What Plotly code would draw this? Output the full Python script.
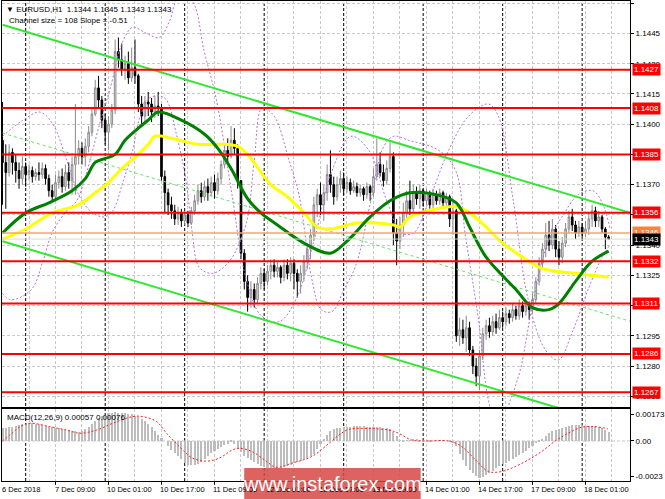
import plotly.graph_objects as go

# ---------------- data (H1 bars, index 0 = 6 Dec 2018 17:00) ----------------
first_open = 1.1392
closes = [1.1381, 1.1376, 1.1386, 1.1381, 1.1377, 1.1373, 1.1379, 1.1375, 1.1377, 1.1374,
          1.1376, 1.1375, 1.1378, 1.1373, 1.1367, 1.1364, 1.1371, 1.1374, 1.1369, 1.1376,
          1.1372, 1.1380, 1.1384, 1.1388, 1.1384, 1.1389, 1.1396, 1.1405, 1.1418, 1.1412,
          1.1402, 1.1396, 1.1400, 1.1407, 1.1436, 1.1432, 1.1427, 1.1430, 1.1423, 1.1428,
          1.1424, 1.1410, 1.1404, 1.1411, 1.1410, 1.1406, 1.1409, 1.1408, 1.1374, 1.1366,
          1.1360, 1.1357, 1.1353, 1.1356, 1.1352, 1.1355, 1.1351, 1.1357, 1.1362, 1.1367,
          1.1364, 1.1369, 1.1366, 1.1371, 1.1367, 1.1373, 1.1380, 1.1387, 1.1384, 1.1392,
          1.1388, 1.1372, 1.1336, 1.1322, 1.1314, 1.1318, 1.1313, 1.1321, 1.1326, 1.1322,
          1.1327, 1.1330, 1.1327, 1.1329, 1.1324, 1.1330, 1.1326, 1.1331, 1.1326, 1.1322,
          1.1326, 1.1332, 1.1338, 1.1345, 1.1360, 1.1365, 1.1360, 1.1366, 1.1375, 1.1370,
          1.1364, 1.1370, 1.1373, 1.1368, 1.1371, 1.1367, 1.1369, 1.1366, 1.1368, 1.1365,
          1.1369, 1.1366, 1.1374, 1.1380, 1.1376, 1.1372, 1.1378, 1.1384, 1.1346, 1.1342,
          1.1350, 1.1356, 1.1362, 1.1358, 1.1366, 1.1363, 1.1367, 1.1362, 1.1366, 1.1360,
          1.1365, 1.1362, 1.1366, 1.1361, 1.1364, 1.1353, 1.1357, 1.1295, 1.1298, 1.1294,
          1.1299, 1.1288, 1.1280, 1.1275, 1.1285, 1.1296, 1.1300, 1.1297, 1.1302, 1.1299,
          1.1304, 1.1302, 1.1306, 1.1304, 1.1308, 1.1305, 1.1310, 1.1307, 1.1310, 1.1308,
          1.1313, 1.1322, 1.1331, 1.1338, 1.1345, 1.1340, 1.1348, 1.1338, 1.1334, 1.1341,
          1.1348, 1.1354, 1.1350, 1.1346, 1.1349, 1.1346, 1.1348, 1.1353, 1.1357, 1.1352,
          1.1354, 1.1348, 1.1344, 1.1343]
highs = [1.1411, 1.1390, 1.1390, 1.1388, 1.1385, 1.1381, 1.1384, 1.1381, 1.1380, 1.1379,
         1.1378, 1.1381, 1.1381, 1.1380, 1.1375, 1.1370, 1.1375, 1.1377, 1.1378, 1.1380,
         1.1381, 1.1384, 1.1410, 1.1392, 1.1391, 1.1393, 1.1399, 1.1408, 1.1422, 1.1424,
         1.1414, 1.1405, 1.1404, 1.1410, 1.1442, 1.1443, 1.1440, 1.1434, 1.1436, 1.1438,
         1.1442, 1.1425, 1.1414, 1.1414, 1.1416, 1.1413, 1.1414, 1.1416, 1.1410, 1.1377,
         1.1368, 1.1364, 1.1360, 1.1359, 1.1358, 1.1357, 1.1357, 1.1359, 1.1365, 1.1370,
         1.1371, 1.1372, 1.1373, 1.1374, 1.1375, 1.1376, 1.1382, 1.1390, 1.1393, 1.1399,
         1.1398, 1.1390, 1.1372, 1.1338, 1.1325, 1.1322, 1.1321, 1.1324, 1.1329, 1.1328,
         1.1330, 1.1333, 1.1333, 1.1332, 1.1330, 1.1333, 1.1333, 1.1334, 1.1333, 1.1328,
         1.1330, 1.1335, 1.1341, 1.1348, 1.1364, 1.1368, 1.1371, 1.1370, 1.1380, 1.1387,
         1.1374, 1.1374, 1.1377, 1.1376, 1.1374, 1.1373, 1.1372, 1.1371, 1.1370, 1.1369,
         1.1371, 1.1370, 1.1378, 1.1393, 1.1386, 1.1380, 1.1382, 1.1391, 1.1386, 1.1353,
         1.1354, 1.1361, 1.1367, 1.1372, 1.1370, 1.1369, 1.1370, 1.1368, 1.1368, 1.1367,
         1.1368, 1.1367, 1.1368, 1.1367, 1.1366, 1.1365, 1.1362, 1.1358, 1.1304, 1.1303,
         1.1305, 1.1302, 1.1290, 1.1284, 1.1288, 1.1299, 1.1303, 1.1304, 1.1305, 1.1306,
         1.1308, 1.1307, 1.1309, 1.1308, 1.1311, 1.1310, 1.1313, 1.1312, 1.1313, 1.1312,
         1.1316, 1.1324, 1.1334, 1.1341, 1.1351, 1.1352, 1.1353, 1.1350, 1.1342, 1.1344,
         1.1351, 1.1357, 1.1358, 1.1352, 1.1352, 1.1351, 1.1352, 1.1356, 1.1360, 1.1359,
         1.1357, 1.1355, 1.1349, 1.1345]
lows = [1.1360, 1.1358, 1.1374, 1.1375, 1.1371, 1.1368, 1.1370, 1.1369, 1.1372, 1.1371,
        1.1372, 1.1372, 1.1373, 1.1370, 1.1364, 1.1362, 1.1363, 1.1368, 1.1366, 1.1367,
        1.1368, 1.1365, 1.1365, 1.1380, 1.1380, 1.1379, 1.1386, 1.1394, 1.1404, 1.1408,
        1.1398, 1.1390, 1.1387, 1.1398, 1.1405, 1.1428, 1.1424, 1.1422, 1.1420, 1.1421,
        1.1420, 1.1406, 1.1400, 1.1400, 1.1404, 1.1401, 1.1403, 1.1404, 1.1372, 1.1356,
        1.1355, 1.1353, 1.1350, 1.1350, 1.1349, 1.1350, 1.1349, 1.1350, 1.1355, 1.1360,
        1.1361, 1.1362, 1.1362, 1.1364, 1.1363, 1.1365, 1.1370, 1.1378, 1.1380, 1.1383,
        1.1385, 1.1368, 1.1333, 1.1318, 1.1307, 1.1309, 1.1309, 1.1311, 1.1318, 1.1318,
        1.1320, 1.1323, 1.1324, 1.1324, 1.1321, 1.1322, 1.1323, 1.1322, 1.1318, 1.1314,
        1.1316, 1.1322, 1.1328, 1.1333, 1.1342, 1.1354, 1.1355, 1.1352, 1.1362, 1.1366,
        1.1360, 1.1362, 1.1366, 1.1365, 1.1366, 1.1365, 1.1366, 1.1364, 1.1364, 1.1362,
        1.1363, 1.1362, 1.1364, 1.1372, 1.1374, 1.1369, 1.1370, 1.1376, 1.1340, 1.1330,
        1.1338, 1.1344, 1.1352, 1.1355, 1.1356, 1.1360, 1.1358, 1.1359, 1.1360, 1.1358,
        1.1358, 1.1360, 1.1360, 1.1358, 1.1359, 1.1349, 1.1345, 1.1292, 1.1290, 1.1291,
        1.1287, 1.1285, 1.1276, 1.1270, 1.1268, 1.1283, 1.1293, 1.1294, 1.1295, 1.1296,
        1.1298, 1.1299, 1.1300, 1.1301, 1.1302, 1.1303, 1.1303, 1.1304, 1.1305, 1.1303,
        1.1306, 1.1311, 1.1320, 1.1328, 1.1334, 1.1337, 1.1338, 1.1334, 1.1330, 1.1331,
        1.1339, 1.1346, 1.1347, 1.1343, 1.1344, 1.1343, 1.1344, 1.1345, 1.1349, 1.1349,
        1.1349, 1.1346, 1.1338, 1.1343]
opens = [first_open] + closes[:-1]
bar_idx = list(range(len(closes)))

# moving averages (bar index, price)
green_ma_idx = [0, 7, 14, 21, 25, 28, 31, 34, 37, 41, 44, 47, 54, 61, 65, 69, 74, 78, 83, 91,
                99, 104, 111, 117, 123, 131, 137, 141, 146, 155, 160, 165, 168, 173, 178, 183]
green_ma = [1.1346, 1.1356, 1.1361, 1.1367, 1.1373, 1.1381, 1.1383, 1.1385, 1.1392, 1.1398,
            1.1402, 1.1406, 1.1402, 1.1395, 1.1388, 1.1378, 1.1363, 1.1356, 1.1350, 1.1341,
            1.1336, 1.1342, 1.1354, 1.1362, 1.1366, 1.1365, 1.1361, 1.1349, 1.1334, 1.1318,
            1.1309, 1.1308, 1.1311, 1.1322, 1.1332, 1.1337]
yellow_ma_idx = [0, 7, 15, 23, 28, 32, 36, 41, 44, 46, 51, 59, 67, 71, 74, 81, 86, 91, 95, 99,
                 107, 113, 118, 120, 123, 131, 137, 141, 146, 151, 157, 162, 167, 173, 178, 183]
yellow_ma = [1.1343, 1.1348, 1.1356, 1.1360, 1.1366, 1.1371, 1.1378, 1.1385, 1.1390, 1.1394,
             1.1393, 1.1390, 1.1390, 1.1389, 1.1385, 1.1370, 1.1364, 1.1356, 1.1349, 1.1348,
             1.1351, 1.1351, 1.1350, 1.1349, 1.1354, 1.1358, 1.1359, 1.1356, 1.1349, 1.1341,
             1.1334, 1.1329, 1.1327, 1.1326, 1.1325, 1.1324]

# two violet dotted band curves (bar index, price)
band_a_idx = [0, 2.3, 5.3, 9.2, 12.2, 15.2, 19.4, 22.4, 25.4, 29.3, 32.4, 36.3, 39.3, 43.5,
              47.4, 50.4, 53.4, 57.3, 60.9, 64.6, 69.1, 73.6, 78.1, 83.5, 88.6, 94.0, 99.5,
              105.2, 110.6, 116.0, 120.5, 124.1, 128.7, 134.7, 140.7, 146.7, 149.7, 154.2,
              158.7, 163.9, 167.8, 172.3, 176.8, 181.3, 183.4]
band_a = [1.1316, 1.1313, 1.1314, 1.1319, 1.1332, 1.1347, 1.1357, 1.1362, 1.1376, 1.1400,
          1.1417, 1.1441, 1.1448, 1.1445, 1.1443, 1.1451, 1.1464, 1.1461, 1.1436, 1.1412,
          1.1367, 1.1323, 1.1305, 1.1302, 1.1313, 1.1342, 1.1377, 1.1394, 1.1387, 1.1362,
          1.1346, 1.1346, 1.1362, 1.1387, 1.1404, 1.1410, 1.1404, 1.1362, 1.1313, 1.1288,
          1.1283, 1.1298, 1.1318, 1.1335, 1.1340]
band_b_idx = [0, 6.2, 11.3, 15.2, 19.4, 23.3, 27.2, 30.8, 33.3, 36.3, 39.3, 41.4, 44.4, 47.4,
              49.5, 52.5, 55.5, 57.3, 59.4, 63.4, 68.5, 73.6, 76.0, 78.4, 82.0, 86.5, 89.5,
              93.4, 96.2, 99.5, 103.1, 106.7, 111.2, 115.1, 118.1, 122.6, 131.7, 136.8, 139.8,
              143.7, 146.7, 149.7, 153.3, 156.3, 160.3, 164.8, 169.3, 173.8, 178.3, 181.3, 183.4]
band_b = [1.1394, 1.1402, 1.1406, 1.1400, 1.1382, 1.1364, 1.1356, 1.1354, 1.1357, 1.1371,
          1.1387, 1.1403, 1.1413, 1.1414, 1.1412, 1.1395, 1.1371, 1.1346, 1.1329, 1.1326,
          1.1332, 1.1351, 1.1382, 1.1408, 1.1404, 1.1382, 1.1365, 1.1323, 1.1308, 1.1307,
          1.1318, 1.1330, 1.1362, 1.1389, 1.1394, 1.1392, 1.1387, 1.1377, 1.1344, 1.1303,
          1.1263, 1.1248, 1.1263, 1.1278, 1.1313, 1.1342, 1.1355, 1.1365, 1.1367, 1.1360,
          1.1348]

# regression channel (ends of lines)
channel_idx = [0, 189.5]
channel_upper = [1.14493, 1.13560]
channel_mid = [1.13956, 1.13022]
channel_lower = [1.13419, 1.12485]

# horizontal levels
levels = [1.1427, 1.1408, 1.1385, 1.1356, 1.1332, 1.1311, 1.1286, 1.1267]
ask_price = 1.1346
bid_price = 1.1343

# MACD histogram (x1e-5) per bar and signal line samples
macd_hist = [82, 85, 88, 92, 96, 103, 106, 110, 114,
             113, 110, 106, 102, 97, 92,
             88, 84, 80, 75, 71, 68, 65, 62, 60,
             66, 78, 92, 108, 128, 146,
             158, 168, 178, 182, 184, 182, 180, 178,
             174, 170, 162, 152, 140, 125, 108, 92, 66, 39,
             20, 0, -36, -60, -80, -100, -120, -140, -154,
             -156, -154, -150, -135, -118, -100, -79,
             -65, -52, -40, -30, -18, -4, -22, -47,
             -75, -98, -112, -122, -138, -152, -165,
             -170, -174, -176, -177, -176, -172, -166, -160, -154,
             -146, -138, -128, -118, -110, -100, -85,
             -50, -20, 10, 40, 62,
             75, 80, 82, 86, 90, 92,
             93, 94, 94, 93, 92, 92, 90, 88, 86, 83, 80,
             75, 55, 28, 5, -2, 3,
             5, 8, 6, 4, 2, 0, -2, 0, 2, 3, 2, 0, -6, -15,
             -36, -85, -122, -165, -190, -208, -225, -240, -232, -220,
             -208, -195, -176, -165, -150, -140, -133, -120, -106, -92, -79,
             -64, -48, -32, -15, -4, 6, 28, 50,
             62, 71, 77, 82, 90, 97, 103,
             104, 102, 100, 97, 95, 94, 93, 92, 84, 72, 57]
signal_idx = [0, 2.3, 5.3, 8.3, 14.3, 19.4, 23.3, 28.4, 33.3, 39.3, 42.3, 46.5, 49.5, 53.4,
              57.3, 61.5, 65.5, 69.4, 71.5, 75.4, 79.6, 82.6, 87.4, 93.4, 98.6, 101.6, 104.6,
              110.6, 116.6, 119.6, 123.5, 128.7, 134.7, 138.6, 142.8, 146.7, 150.6, 154.8,
              158.7, 162.7, 166.9, 170.8, 174.7, 178.9, 182.8]
signal = [0, 39, 92, 114, 92, 70, 50, 70, 114, 157, 157, 125, 50, -36, -110, -130, -110, -58,
          -47, -69, -130, -170, -143, -100, -15, 39, 75, 80, 70, 50, 6, 0, 0, -36, -122, -197,
          -197, -165, -122, -69, 0, 50, 88, 92, 78]

# axes labels
price_ticks = [1.1265, 1.1280, 1.1295, 1.1310, 1.1325, 1.1340, 1.1355, 1.1370, 1.1385,
               1.1400, 1.1415, 1.1430, 1.1445, 1.1460]
macd_ticks = [0.00173, 0.0, -0.0023]
macd_tick_text = ["0.00173", "0.00", "-0.0023"]
time_tick_idx = [0, 16, 32, 48, 64, 80, 96, 112, 128, 144, 160, 176]
time_tick_text = ["6 Dec 2018", "7 Dec 09:00", "10 Dec 01:00", "10 Dec 17:00", "11 Dec 09:00",
                  "12 Dec 01:00", "12 Dec 17:00", "13 Dec 09:00", "14 Dec 01:00",
                  "14 Dec 17:00", "17 Dec 09:00", "18 Dec 01:00"]
grid_idx = list(range(0, 190, 8))
day_sep_idx = [7, 31, 55, 79, 103, 127, 151, 175]

# ---------------- figure ----------------
FONT = "Liberation Sans"
X_RANGE = [-0.15, 189.44]
MAIN_DOM = [0.1538, 1.0]
MACD_DOM = [0.0, 0.1497]
GRID = "#c8c8c8"

fig = go.Figure()

# violet dotted band curves (behind candles)
for bx, by in ((band_a_idx, band_a), (band_b_idx, band_b)):
    fig.add_trace(go.Scatter(x=bx, y=by, mode="lines",
                             line=dict(color="#b46ee0", width=1, dash="2px,2px",
                                       shape="spline", smoothing=1.0),
                             hoverinfo="skip", xaxis="x", yaxis="y"))

fig.add_trace(go.Candlestick(
    x=bar_idx, open=opens, high=highs, low=lows, close=closes,
    increasing=dict(line=dict(color="#8a8a8a", width=1), fillcolor="#e6e6e6"),
    decreasing=dict(line=dict(color="#000000", width=1), fillcolor="#000000"),
    whiskerwidth=0, hoverinfo="skip", showlegend=False, xaxis="x", yaxis="y"))

fig.add_trace(go.Scatter(x=channel_idx, y=channel_mid, mode="lines",
                         line=dict(color="#66e066", width=1, dash="3px,3px"),
                         hoverinfo="skip", xaxis="x", yaxis="y"))
fig.add_trace(go.Scatter(x=yellow_ma_idx, y=yellow_ma, mode="lines",
                         line=dict(color="#ffff00", width=3, shape="spline", smoothing=1.0),
                         hoverinfo="skip", xaxis="x", yaxis="y"))
fig.add_trace(go.Scatter(x=green_ma_idx, y=green_ma, mode="lines",
                         line=dict(color="#008000", width=3, shape="spline", smoothing=1.0),
                         hoverinfo="skip", xaxis="x", yaxis="y"))
for ch in (channel_upper, channel_lower):
    fig.add_trace(go.Scatter(x=channel_idx, y=ch, mode="lines",
                             line=dict(color="#33e633", width=2),
                             hoverinfo="skip", xaxis="x", yaxis="y"))

# MACD
fig.add_trace(go.Bar(x=bar_idx, y=[v * 1e-5 for v in macd_hist], width=0.62,
                     marker=dict(color="#bdbdbd", line=dict(width=0)),
                     hoverinfo="skip", xaxis="x2", yaxis="y2"))
fig.add_trace(go.Scatter(x=signal_idx, y=[v * 1e-5 for v in signal], mode="lines",
                         line=dict(color="#ff2020", width=1, dash="2px,2px",
                                   shape="spline", smoothing=1.0),
                         hoverinfo="skip", xaxis="x2", yaxis="y2"))

shapes = []
for d in day_sep_idx:
    shapes.append(dict(type="line", xref="x", yref="paper", x0=d, x1=d, y0=0, y1=1,
                       line=dict(color="#000000", width=1, dash="3px,2px"), layer="below"))
for t in time_tick_idx[1:]:
    shapes.append(dict(type="line", xref="x", yref="paper", x0=t, x1=t, y0=0, y1=-0.008,
                       line=dict(color="#000000", width=1)))
shapes.append(dict(type="line", xref="x2 domain", yref="y2", x0=0, x1=1, y0=0, y1=0,
                   line=dict(color=GRID, width=1, dash="3px,2px"), layer="below"))
shapes.append(dict(type="line", xref="x domain", yref="y", x0=0, x1=1, y0=bid_price, y1=bid_price,
                   line=dict(color="#d8d8d8", width=1)))
shapes.append(dict(type="line", xref="x domain", yref="y", x0=0, x1=1, y0=ask_price, y1=ask_price,
                   line=dict(color="#ffa070", width=1.5)))
for lv in levels:
    shapes.append(dict(type="line", xref="x domain", yref="y", x0=0, x1=1, y0=lv, y1=lv,
                       line=dict(color="#ff0000", width=2)))

annotations = []
for lv in levels:
    annotations.append(dict(xref="paper", yref="y", x=1, y=lv, xanchor="left", yanchor="middle",
                            xshift=2, text=f"{lv:.4f}", showarrow=False, bgcolor="#ff0000",
                            borderpad=1, font=dict(family=FONT, size=8, color="white")))
annotations.append(dict(xref="paper", yref="y", x=1, y=ask_price, xanchor="left", yanchor="middle",
                        xshift=2, yshift=1, text=f"{ask_price:.4f}", showarrow=False,
                        bgcolor="#ff8040", borderpad=1,
                        font=dict(family=FONT, size=8, color="white")))
annotations.append(dict(xref="paper", yref="y", x=1, y=bid_price, xanchor="left", yanchor="middle",
                        xshift=2, text=f"{bid_price:.4f}", showarrow=False, bgcolor="#000000",
                        borderpad=1, font=dict(family=FONT, size=8, color="white")))
for t, txt in zip(time_tick_idx, time_tick_text):
    annotations.append(dict(xref="x", yref="paper", x=max(t, X_RANGE[0]), y=0, xanchor="left",
                            yanchor="top", xshift=-3, yshift=-2, text=txt, showarrow=False,
                            font=dict(family=FONT, size=7.5, color="black")))
annotations.append(dict(xref="paper", yref="paper", x=0, y=1, xanchor="left", yanchor="middle",
                        xshift=2, yshift=-8,
                        text="\u25bc EURUSD,H1  1.1344 1.1345 1.1343 1.1343", showarrow=False,
                        font=dict(family=FONT, size=8, color="black")))
annotations.append(dict(xref="paper", yref="paper", x=0, y=1, xanchor="left", yanchor="middle",
                        xshift=5, yshift=-19, text="Channel size = 108 Slope = -0.51",
                        showarrow=False, font=dict(family=FONT, size=8, color="black")))
annotations.append(dict(xref="paper", yref="paper", x=0, y=0.1331, xanchor="left", yanchor="middle",
                        xshift=3, text="MACD(12,26,9) 0.00057 0.00076", showarrow=False,
                        font=dict(family=FONT, size=8, color="black")))

# watermark
shapes.append(dict(type="rect", xref="paper", yref="paper", x0=0.3857, x1=0.6667,
                   y0=-0.0374, y1=0.027, fillcolor="rgba(214,72,68,0.85)", line=dict(width=0),
                   layer="above"))
annotations.append(dict(xref="paper", yref="paper", x=0.5262, y=-0.0062, xanchor="center",
                        yanchor="middle", text="www.instaforex.com", showarrow=False,
                        font=dict(family=FONT, size=20, color="white")))

axis_common = dict(showline=True, linecolor="#000000", linewidth=1, mirror=True, zeroline=False)
fig.update_layout(
    width=665, height=499, margin=dict(l=2, r=33, t=0, b=18),
    paper_bgcolor="white", plot_bgcolor="white", showlegend=False, bargap=0,
    font=dict(family=FONT, size=8, color="black"),
    xaxis=dict(domain=[0, 1], range=X_RANGE, anchor="y", tickvals=grid_idx, showticklabels=False,
               ticks="", showgrid=True, gridcolor=GRID, griddash="3px,2px",
               rangeslider=dict(visible=False), **axis_common),
    yaxis=dict(domain=MAIN_DOM, range=[1.12596, 1.14611], anchor="x", side="right",
               tickvals=price_ticks, ticktext=[f"{p:.4f}" for p in price_ticks],
               ticks="outside", ticklen=3, tickcolor="#000000",
               tickfont=dict(family=FONT, size=8, color="black"),
               showgrid=True, gridcolor=GRID, griddash="3px,2px", **axis_common),
    xaxis2=dict(domain=[0, 1], range=X_RANGE, anchor="y2", tickvals=grid_idx, showticklabels=False,
                ticks="", showgrid=True, gridcolor=GRID, griddash="3px,2px", **axis_common),
    yaxis2=dict(domain=MACD_DOM, range=[-0.00258, 0.00205], anchor="x2", side="right",
                tickvals=macd_ticks, ticktext=macd_tick_text, ticks="outside", ticklen=3,
                tickcolor="#000000", tickfont=dict(family=FONT, size=8, color="black"),
                showgrid=False, **axis_common),
    shapes=shapes, annotations=annotations,
)

fig.write_html("out.html", config={"displayModeBar": False},
               post_script="document.body.style.margin='0';document.body.style.overflow='hidden';")
